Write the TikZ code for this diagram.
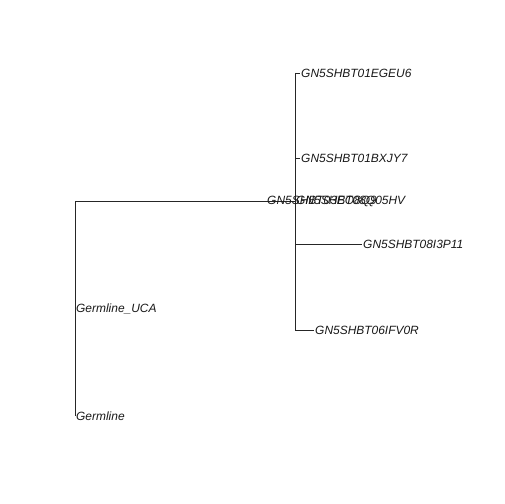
\documentclass[tikz,border=0pt]{standalone}
\usepackage{fontspec}
\setmainfont{Liberation Sans}
\begin{document}
\begin{tikzpicture}[x=1bp,y=-1bp,
  edge/.style={draw=black!85,line width=0.7bp},
  tip/.style={anchor=west,inner sep=0pt,font=\fontsize{12}{14}\selectfont\itshape,text=black!90}]
\useasboundingbox[fill=white] (0,0) rectangle (504,504);
% tree nodes
\coordinate (root) at (75,201);
\coordinate (inner) at (295,201);
\coordinate (tGerm) at (75,416);
\coordinate (tUCA) at (75,309);
\coordinate (tA) at (266,201);
\coordinate (t1) at (300,73);
\coordinate (t2) at (300,158);
\coordinate (t3) at (362,244);
\coordinate (t4) at (314,330);
% edges
\draw[edge] (root) -- (inner);
\draw[edge] (root) -- (tGerm);
\draw[edge] (inner |- t1) -- (inner |- t4);
\draw[edge] (inner |- t1) -- (t1);
\draw[edge] (inner |- t2) -- (t2);
\draw[edge] (inner |- t3) -- (t3);
\draw[edge] (inner |- t4) -- (t4);
% labels
\node[tip] (l1) at ([xshift=1]t1) {GN5SHBT01EGEU6};
\node[tip] (l2) at ([xshift=1]t2) {GN5SHBT01BXJY7};
\node[tip] (l3) at ([xshift=1]t3) {GN5SHBT08I3P11};
\node[tip] (l4) at ([xshift=1]t4) {GN5SHBT06IFV0R};
\node[tip] (lA) at ([xshift=1]tA) {GN5SHBT03EO8Q9};
\node[tip] (lB) at ([xshift=1]inner) {GN5SHBT08Q05HV};
\node[tip] (lC) at ([xshift=1]tUCA) {Germline\_UCA};
\node[tip] (lG) at ([xshift=1]tGerm) {Germline};
\end{tikzpicture}
\end{document}
